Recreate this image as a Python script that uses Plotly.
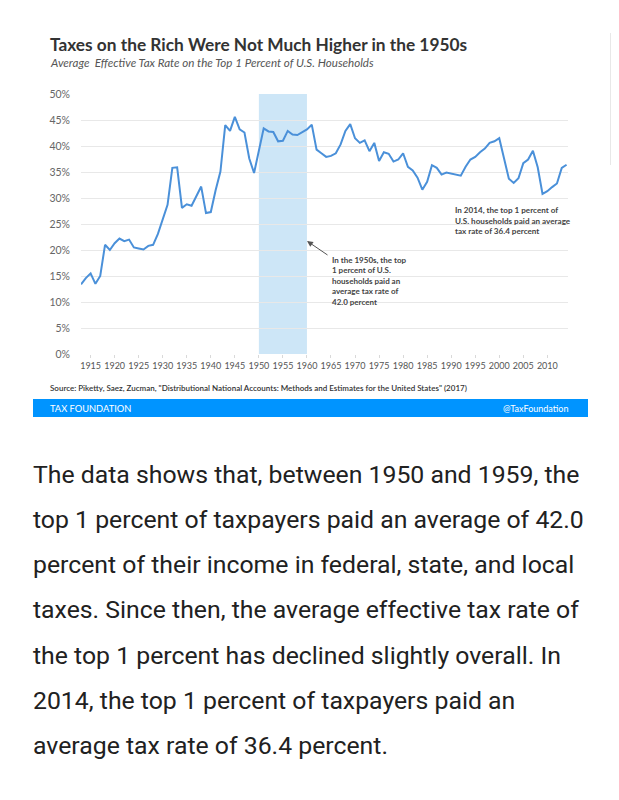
import plotly.graph_objects as go

# ---------------- data ----------------
years = list(range(1913, 2015))
tax_rate = [
    13.4, 14.6, 15.5, 13.5, 15.0, 21.0, 20.0, 21.3, 22.2, 21.7,   # 1913-1922
    22.0, 20.5, 20.3, 20.1, 20.8, 21.0, 23.1, 25.8, 28.7, 35.8,   # 1923-1932
    35.9, 28.1, 28.8, 28.5, 30.3, 32.2, 27.1, 27.3, 31.5, 35.1,   # 1933-1942
    44.0, 42.9, 45.6, 43.2, 42.6, 37.6, 34.8, 39.2, 43.4, 42.8,   # 1943-1952
    42.7, 40.9, 41.0, 42.9, 42.2, 42.1, 42.6, 43.2, 44.1, 39.3,   # 1953-1962
    38.6, 37.9, 38.1, 38.6, 40.3, 42.9, 44.2, 41.5, 40.6, 41.1,   # 1963-1972
    39.0, 40.6, 37.1, 38.8, 38.5, 37.0, 37.4, 38.6, 36.0, 35.3,   # 1973-1982
    33.9, 31.6, 33.1, 36.3, 35.8, 34.5, 34.9, 34.7, 34.6, 34.3,   # 1983-1992
    36.0, 37.4, 37.9, 38.8, 39.5, 40.6, 40.9, 41.5, 37.6, 33.7,   # 1993-2002
    32.9, 33.8, 36.7, 37.4, 39.1, 35.9, 30.8, 31.3, 32.1, 32.8,   # 2003-2012
    35.8, 36.4                                                    # 2013-2014
]
x_ticks = list(range(1915, 2011, 5))
y_ticks = list(range(0, 51, 5))
y_tick_labels = [f"{v}%" for v in y_ticks]
shade_years = [1950, 1960]

title = "Taxes on the Rich Were Not Much Higher in the 1950s"
subtitle = "Average  Effective Tax Rate on the Top 1 Percent of U.S. Households"
source = ('Source: Piketty, Saez, Zucman, "Distributional National Accounts: '
          'Methods and Estimates for the United States" (2017)')
note_1950s = "In the 1950s, the top<br>1 percent of U.S.<br>households paid an<br>average tax rate of<br>42.0 percent"
note_2014 = "In 2014, the top 1 percent of<br>U.S. households paid an average<br>tax rate of 36.4 percent"
paragraph = [
    "The data shows that, between 1950 and 1959, the",
    "top 1 percent of taxpayers paid an average of 42.0",
    "percent of their income in federal, state, and local",
    "taxes. Since then, the average effective tax rate of",
    "the top 1 percent has declined slightly overall. In",
    "2014, the top 1 percent of taxpayers paid an",
    "average tax rate of 36.4 percent.",
]

# ---------------- layout geometry (window pixels) ----------------
OFF = 8  # default page body margin
W, H = 619 - 2 * OFF, 800 - 2 * OFF
L, R, T, B = 81, 568, 94, 354  # plot area in window pixels


def px(x):
    return (x - L) / (R - L)


def py(y):
    return (B - y) / (B - T)


fig = go.Figure()

fig.add_trace(go.Scatter(
    x=years, y=tax_rate, mode="lines",
    line=dict(color="#4a90d9", width=2),
    hoverinfo="x+y", showlegend=False,
))

# shaded 1950s band
fig.add_shape(type="rect", xref="x", yref="y",
              x0=shade_years[0], x1=shade_years[1], y0=0, y1=50,
              fillcolor="#cde6f7", line=dict(width=0), layer="below")

annotations = []
# title & subtitle
annotations.append(dict(text=title, xref="paper", yref="paper", x=px(48), y=py(44),
                        xanchor="left", yanchor="middle", showarrow=False,
                        font=dict(family="Lato", size=17.3, color="#333333", weight=700)))
annotations.append(dict(text=subtitle, xref="paper", yref="paper", x=px(48), y=py(62),
                        xanchor="left", yanchor="middle", showarrow=False,
                        font=dict(family="Lato", size=11.6, color="#555555", style="italic")))
# source
annotations.append(dict(text=source, xref="paper", yref="paper", x=px(48), y=py(388),
                        xanchor="left", yanchor="middle", showarrow=False,
                        font=dict(family="Lato", size=8, color="#333333", weight=600)))
# footer
annotations.append(dict(text="TAX FOUNDATION", xref="paper", yref="paper", x=px(48), y=py(408),
                        xanchor="left", yanchor="middle", showarrow=False,
                        font=dict(family="Lato", size=9.3, color="#ffffff")))
annotations.append(dict(text="@TaxFoundation", xref="paper", yref="paper", x=px(570), y=py(408),
                        xanchor="right", yanchor="middle", showarrow=False,
                        font=dict(family="Lato", size=9, color="#ffffff")))
# chart notes
annotations.append(dict(text=note_1950s, xref="paper", yref="paper", x=px(330), y=py(253),
                        xanchor="left", yanchor="top", align="left", showarrow=False,
                        font=dict(family="Lato", size=8, color="#444444", weight=700)))
annotations.append(dict(text=note_2014, xref="paper", yref="paper", x=px(453), y=py(203),
                        xanchor="left", yanchor="top", align="left", showarrow=False,
                        font=dict(family="Lato", size=8.1, color="#444444", weight=700)))
# arrow
annotations.append(dict(text="", xref="paper", yref="paper", axref="pixel", ayref="pixel",
                        x=px(307), y=py(241), ax=22, ay=15, showarrow=True,
                        arrowhead=2, arrowsize=1.2, arrowwidth=1, arrowcolor="#555555"))
# paragraph
for i, line in enumerate(paragraph):
    annotations.append(dict(text=line, xref="paper", yref="paper", x=px(31), y=py(474 + i * 45.3),
                            xanchor="left", yanchor="middle", showarrow=False,
                            font=dict(family="Roboto", size=24.8, color="#212121")))

# footer bar
fig.add_shape(type="rect", xref="paper", yref="paper",
              x0=px(33), x1=px(588), y0=py(417), y1=py(399),
              fillcolor="#0094ff", line=dict(width=0), layer="below")
# scrollbar-like gray strip
fig.add_shape(type="rect", xref="paper", yref="paper",
              x0=px(610), x1=px(613.5), y0=py(165), y1=py(33),
              fillcolor="#e8e8e8", line=dict(width=0), layer="below")

fig.update_layout(
    width=W, height=H,
    margin=dict(l=L - OFF, r=(W + OFF) - R, t=T - OFF, b=(H + OFF) - B, pad=0, autoexpand=False),
    paper_bgcolor="white", plot_bgcolor="white",
    annotations=annotations,
    font=dict(family="Lato"),
    showlegend=False,
)
fig.update_xaxes(
    range=[1913, 2014.3], tickmode="array", tickvals=x_ticks,
    ticktext=[str(v) for v in x_ticks], tickangle=0, automargin=False,
    showgrid=False, zeroline=False, showline=False,
    ticks="outside", ticklen=3, tickcolor="#d9d9d9",
    tickfont=dict(family="Lato", size=9, color="#555555"),
    fixedrange=True,
)
fig.update_yaxes(
    range=[0, 50], tickmode="array", tickvals=y_ticks, ticktext=y_tick_labels,
    automargin=False,
    showgrid=True, gridcolor="#e8e8e8", gridwidth=1, zeroline=False, showline=False,
    ticklabelstandoff=10,
    tickfont=dict(family="Lato", size=10.5, color="#666666"),
    fixedrange=True,
)

fig.write_html("out.html")
